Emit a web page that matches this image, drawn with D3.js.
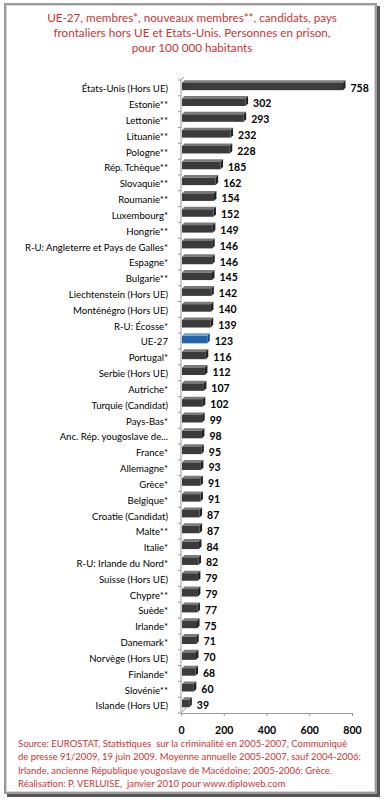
<!DOCTYPE html>
<html><head><meta charset="utf-8">
<script src="https://cdn.jsdelivr.net/npm/d3@7"></script>
<style>body{margin:0;background:#fff}svg{display:block}</style>
</head><body><svg id="c" width="385" height="800"></svg>
<script>
const categories = ["États-Unis (Hors UE)","Estonie**","Lettonie**","Lituanie**","Pologne**","Rép. Tchèque**","Slovaquie**","Roumanie**","Luxembourg*","Hongrie**","R-U: Angleterre et Pays de Galles*","Espagne*","Bulgarie**","Liechtenstein (Hors UE)","Monténégro (Hors UE)","R-U: Écosse*","UE-27","Portugal*","Serbie (Hors UE)","Autriche*","Turquie (Candidat)","Pays-Bas*","Anc. Rép. yougoslave de...","France*","Allemagne*","Grèce*","Belgique*","Croatie (Candidat)","Malte**","Italie*","R-U: Irlande du Nord*","Suisse (Hors UE)","Chypre**","Suède*","Irlande*","Danemark*","Norvège (Hors UE)","Finlande*","Slovénie**","Islande (Hors UE)"];
const values = [758,302,293,232,228,185,162,154,152,149,146,146,145,142,140,139,123,116,112,107,102,99,98,95,93,91,91,87,87,84,82,79,79,77,75,71,70,68,60,39];
const highlight = ["UE-27"];
const xTicks = [0,200,400,600,800];
const titleLines = ["UE-27, membres*, nouveaux membres**, candidats, pays","frontaliers hors UE et Etats-Unis. Personnes en prison,","pour 100 000 habitants"];
const sourceLines = ["Source: EUROSTAT, Statistiques  sur la criminalité en 2005-2007, Communiqué","de presse 91/2009, 19 juin 2009. Moyenne annuelle 2005-2007, sauf 2004-2006:","Irlande, ancienne République yougoslave de Macédoine; 2005-2006: Grèce.","Réalisation: P. VERLUISE,  janvier 2010 pour www.diploweb.com"];

const svg = d3.select("#c");
const font = "Lato, 'Open Sans', sans-serif";
const red = "#cc3333";

// frame
svg.append("rect").attr("x",7).attr("y",6).attr("width",373).attr("height",791).attr("fill","#555");
svg.append("rect").attr("x",4).attr("y",3).attr("width",373).attr("height",791).attr("fill","#9a9a9a");
svg.append("rect").attr("x",6.5).attr("y",5.5).attr("width",368).attr("height",786).attr("fill","#fff").attr("stroke","#d8d8d8").attr("stroke-width",1);

// title
svg.append("g").selectAll("text").data(titleLines).join("text")
  .attr("x",192).attr("y",(d,i)=>22+i*15).attr("text-anchor","middle")
  .attr("font-family",font).attr("font-size",11.7).attr("fill",red).text(d=>d);

const x = d3.scaleLinear().domain([0,800]).range([181,352]);
const y = d3.scaleBand().domain(categories).range([80,713]).paddingInner(0.5).paddingOuter(0.25);
const bh = 7.5, depth = 2.5;

// vertical axis (back wall edge)
const ax = svg.append("g").attr("stroke","#9a9a9a").attr("fill","none");
ax.append("line").attr("x1",181).attr("x2",181).attr("y1",80).attr("y2",713);
ax.append("line").attr("x1",181).attr("x2",184).attr("y1",80).attr("y2",77);
ax.append("line").attr("x1",181).attr("x2",186).attr("y1",713).attr("y2",708);
d3.range(categories.length+1).forEach(i=>{
  const yy = 80 + i*(633/categories.length);
  ax.append("line").attr("x1",178).attr("x2",181).attr("y1",yy).attr("y2",yy);
});

// x axis
const xa = svg.append("g").attr("transform","translate(0,713)")
  .call(d3.axisBottom(x).tickValues(xTicks).tickSize(3).tickSizeOuter(0).tickPadding(11));
xa.select(".domain").attr("stroke","#9a9a9a");
xa.selectAll(".tick line").attr("stroke","#9a9a9a");
xa.selectAll("text").attr("font-family",font).attr("font-size",10.5).attr("font-weight","bold").attr("fill","#000");

// bars
const bars = svg.append("g").selectAll("g").data(categories).join("g");
bars.each(function(c,i){
  const g = d3.select(this);
  const hl = highlight.includes(c);
  const front = hl ? "#2463ae" : "#3b3b3b";
  const top = hl ? "#6e9cd6" : "#7a7a7a";
  const side = hl ? "#1a4a86" : "#222";
  const yc = y(c) + y.bandwidth()/2 - 1.5;
  const x0 = x(0)+1, x1 = x(values[i]);
  const y0 = yc - bh/2, y1 = yc + bh/2;
  g.append("path").attr("fill",top)
    .attr("d",`M${x0},${y0} L${x0+depth},${y0-depth} L${x1+depth},${y0-depth} L${x1},${y0} Z`);
  g.append("path").attr("fill",side)
    .attr("d",`M${x1},${y0} L${x1+depth},${y0-depth} L${x1+depth},${y1-depth} L${x1},${y1} Z`);
  g.append("rect").attr("x",x0).attr("y",y0).attr("width",x1-x0).attr("height",bh).attr("fill",front);
  g.append("text").attr("x",x1+depth+5).attr("y",yc+1.5).attr("dy","0.35em")
    .attr("font-family",font).attr("font-size",10.5).attr("font-weight","bold").attr("fill","#000").text(values[i]);
  g.append("text").attr("x",168).attr("y",yc+2.5).attr("dy","0.35em").attr("text-anchor","end")
    .attr("font-family",font).attr("font-size",9.6).attr("fill","#000").text(c);
});

// source
svg.append("g").selectAll("text").data(sourceLines).join("text")
  .attr("x",18).attr("y",(d,i)=>747+i*13.3)
  .attr("font-family",font).attr("font-size",9.5).attr("fill",red).style("white-space","pre").text(d=>d);
</script></body></html>
